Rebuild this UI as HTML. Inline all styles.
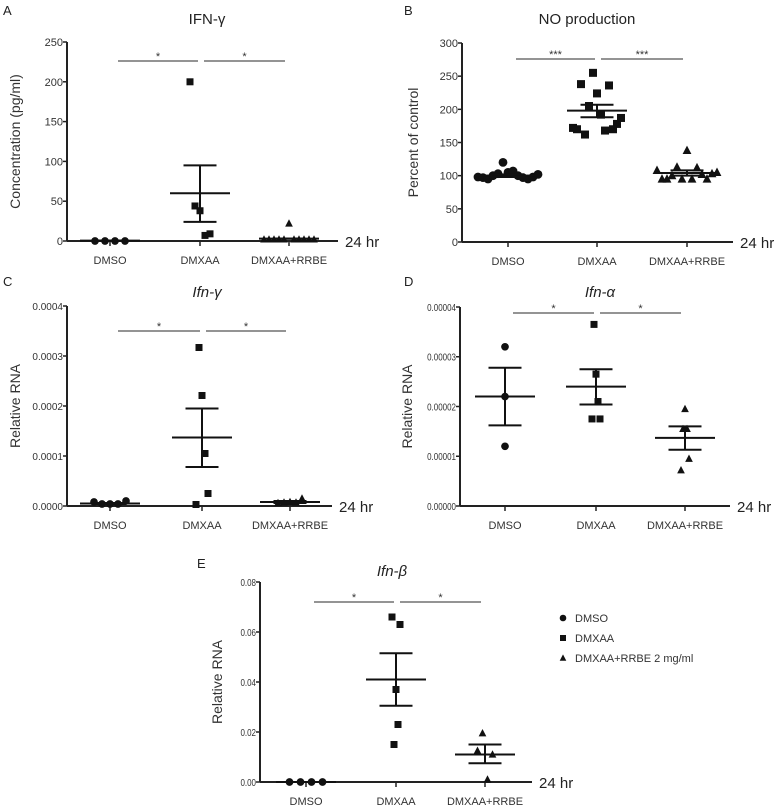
<!DOCTYPE html>
<html><head><meta charset="utf-8"><style>
body{margin:0;background:#fff;}
svg{display:block;font-family:"Liberation Sans",sans-serif;}
</style></head><body>
<svg id="fig" width="783" height="809" viewBox="0 0 783 809"></svg>
<script>
const groups = ["DMSO","DMXAA","DMXAA+RRBE"];
// Panel A
const aTicks = [0,50,100,150,200,250];
const aDmso = [0,0,0,0];
const aDmxaa = [200,44,38,7,9];
const aRrbe = [2,2,2,2,2,22,2,2,2,2,2];
const aMean = [0.5,60,3]; const aSemHi=[0.5,95,3]; const aSemLo=[0.5,24,3];
// Panel B
const bTicks = [0,50,100,150,200,250,300];
const bDmso = [98,97,95,100,103,120,105,107,100,97,95,98,102];
const bDmxaa = [172,170,238,162,205,255,224,192,168,236,170,178,187];
const bRrbe = [108,95,95,100,113,95,138,95,112,102,95,103,105];
const bMean = [100,198,104]; const bSemHi=[102,207,108]; const bSemLo=[98,188,100];
// Panel C
const cTicks = [0,0.0001,0.0002,0.0003,0.0004];
const cTickLabels = ["0.0000","0.0001","0.0002","0.0003","0.0004"];
const cDmso = [0.000008,0.000004,0.000004,0.000004,0.00001];
const cDmxaa = [0.000003,0.000317,0.000221,0.000105,0.000025];
const cRrbe = [0.000006,0.000007,0.000008,0.000007,0.000015];
const cMean = [0.000005,0.000137,0.000008]; const cSemHi=[0.000006,0.000195,0.00001]; const cSemLo=[0.000004,0.000078,0.000006];
// Panel D
const dTicks = [0,0.00001,0.00002,0.00003,0.00004];
const dTickLabels = ["0.00000","0.00001","0.00002","0.00003","0.00004"];
const dDmso = [0.000032,0.000022,0.000012];
const dDmxaa = [0.0000175,0.0000365,0.0000265,0.000021,0.0000175];
const dRrbe = [0.0000072,0.0000155,0.0000195,0.0000155,0.0000095];
const dMean = [0.000022,0.000024,0.0000137]; const dSemHi=[0.0000278,0.0000275,0.000016]; const dSemLo=[0.0000162,0.0000204,0.0000113];
// Panel E
const eTicks = [0,0.02,0.04,0.06,0.08];
const eTickLabels = ["0.00","0.02","0.04","0.06","0.08"];
const eDmso = [0,0,0,0];
const eDmxaa = [0.066,0.015,0.037,0.023,0.063];
const eRrbe = [0.0125,0.0195,0.001,0.011];
const eMean = [0,0.041,0.011]; const eSemHi=[0,0.0515,0.015]; const eSemLo=[0,0.0305,0.0075];

const NS="http://www.w3.org/2000/svg";
const svg=document.getElementById('fig');
function mk(tag,attrs,parent){const e=document.createElementNS(NS,tag);for(const k in attrs)e.setAttribute(k,attrs[k]);(parent||svg).appendChild(e);return e;}

function marker(g,shape,x,y,s){
  let e;
  if(shape==='circle') e=mk('circle',{cx:x,cy:y,r:s*0.55,fill:'#111'},g);
  else if(shape==='square') e=mk('rect',{x:x-s/2,y:y-s/2,width:s,height:s,fill:'#111'},g);
  else e=mk('polygon',{points:`${x},${y-s*0.6} ${x-s*0.55},${y+s*0.45} ${x+s*0.55},${y+s*0.45}`,fill:'#111'},g);
  return e;
}

function panel(p){
  const g=mk('g',{});
  
  
  const y=v=>p.y0+(v-p.min)/(p.max-p.min)*(p.yTop-p.y0);
  const xc=i=>p.cx[i];
  const ya=mk('line',{x1:p.ax,y1:y(p.max),x2:p.ax,y2:p.y0,stroke:'#222','stroke-width':2},g);
  
  const xa=mk('line',{x1:p.ax,y1:p.y0,x2:p.axEnd,y2:p.y0,stroke:'#222','stroke-width':2},g);
  
  p.ticks.forEach((t,i)=>{
    mk('line',{x1:p.ax-4,y1:y(t),x2:p.ax,y2:y(t),stroke:'#222','stroke-width':1.5},g);
    const tx=mk('text',{x:p.ax-4,y:y(t)+4,'text-anchor':'end','font-size':p.tfs,fill:'#333',transform:p.cond?`translate(${p.ax-4},0) scale(0.8,1) translate(${-(p.ax-4)},0)`:''},g);
    tx.textContent=p.tl?p.tl[i]:String(t);
    
  });
  groups.forEach((gn,i)=>{
    mk('line',{x1:xc(i),y1:p.y0,x2:xc(i),y2:p.y0+5,stroke:'#222','stroke-width':1.5},g);
    const t=mk('text',{x:xc(i),y:p.y0+23,'text-anchor':'middle','font-size':11,fill:'#333'},g);
    t.textContent=gn;
    
  });
  const hr=mk('text',{x:p.axEnd+7,y:p.y0+6,'font-size':15,fill:'#222'},g);hr.textContent='24 hr';
  
  const ti=mk('text',{x:p.tx,y:p.ty,'text-anchor':'middle','font-size':15,fill:'#222','font-style':p.italic?'italic':'normal'},g);
  ti.textContent=p.title;
  const lt=mk('text',{x:p.lx,y:p.ly,'font-size':13,fill:'#222'},g);lt.textContent=p.letter;
  
  const yl=mk('text',{x:0,y:0,'text-anchor':'middle','font-size':14,fill:'#333',transform:`translate(${p.ylx},${(p.y0+y(p.max))/2}) rotate(-90)`},g);
  yl.textContent=p.ylabel;
  const sy=p.sigY;
  [[xc(0)+8,xc(1)-2],[xc(1)+4,xc(2)-4]].forEach(([a,b])=>{
    const l=mk('line',{x1:a,y1:sy,x2:b,y2:sy,stroke:'#555','stroke-width':1.3},g);
    
    const s=mk('text',{x:(a+b)/2,y:sy-1,'text-anchor':'middle','font-size':11,fill:'#333'},g);
    s.textContent=p.star;
  });
  const shapes=['circle','square','triangle'];
  p.data.forEach((arr,i)=>{
    const n=arr.length;
    arr.forEach((v,j)=>{
      const off=(j-(n-1)/2)*p.sp[i];
      const m=marker(g,shapes[i],xc(i)+off,y(v),p.ms);
      
      
    });
    const mw=p.mw, ew=mw*0.55;
    const ml=mk('line',{x1:xc(i)-mw,y1:y(p.mean[i]),x2:xc(i)+mw,y2:y(p.mean[i]),stroke:'#111','stroke-width':2},g);
    
    mk('line',{x1:xc(i),y1:y(p.hi[i]),x2:xc(i),y2:y(p.lo[i]),stroke:'#111','stroke-width':2},g);
    [p.hi[i],p.lo[i]].forEach(v=>{
      const e=mk('line',{x1:xc(i)-ew,y1:y(v),x2:xc(i)+ew,y2:y(v),stroke:'#111','stroke-width':2},g);
      
    });
  });
}

panel({name:'panel-a',ax:67,axEnd:338,y0:241,yTop:42,min:0,max:250,ticks:aTicks,tfs:11,cx:[110,200,289],
  title:'IFN-γ',tx:207,ty:24,letter:'A',lx:3,ly:15,ylabel:'Concentration (pg/ml)',ylx:20,sigY:61,star:'*',
  data:[aDmso,aDmxaa,aRrbe],mean:aMean,hi:aSemHi,lo:aSemLo,sp:[10,5,5],ms:7,mw:30});
panel({name:'panel-b',ax:462,axEnd:733,y0:242,yTop:43,min:0,max:300,ticks:bTicks,tfs:11,cx:[508,597,687],
  title:'NO production',tx:587,ty:24,letter:'B',lx:404,ly:15,ylabel:'Percent of control',ylx:418,sigY:59,star:'***',
  data:[bDmso,bDmxaa,bRrbe],mean:bMean,hi:bSemHi,lo:bSemLo,sp:[5,4,5],ms:8,mw:30});
panel({name:'panel-c',ax:67,axEnd:332,y0:506,yTop:306,min:0,max:0.0004,ticks:cTicks,tl:cTickLabels,tfs:10,cx:[110,202,290],
  title:'Ifn-γ',italic:true,tx:207,ty:297,letter:'C',lx:3,ly:286,ylabel:'Relative RNA',ylx:20,sigY:331,star:'*',
  data:[cDmso,cDmxaa,cRrbe],mean:cMean,hi:cSemHi,lo:cSemLo,sp:[8,3,6],ms:7,mw:30});
panel({name:'panel-d',ax:460,axEnd:730,y0:506,yTop:307,min:0,max:0.00004,ticks:dTicks,tl:dTickLabels,tfs:10,cond:true,cx:[505,596,685],
  title:'Ifn-α',italic:true,tx:600,ty:297,letter:'D',lx:404,ly:286,ylabel:'Relative RNA',ylx:412,sigY:313,star:'*',
  data:[dDmso,dDmxaa,dRrbe],mean:dMean,hi:dSemHi,lo:dSemLo,sp:[0,2,2],ms:7,mw:30});
panel({name:'panel-e',ax:260,axEnd:532,y0:782,yTop:582,min:0,max:0.08,ticks:eTicks,tl:eTickLabels,tfs:10,cond:true,cx:[306,396,485],
  title:'Ifn-β',italic:true,tx:392,ty:576,letter:'E',lx:197,ly:568,ylabel:'Relative RNA',ylx:222,sigY:602,star:'*',
  data:[eDmso,eDmxaa,eRrbe],mean:eMean,hi:eSemHi,lo:eSemLo,sp:[11,2,5],ms:7,mw:30});

const lg=mk('g',{});


const legShapes=['circle','square','triangle'];
const legLabels=['DMSO','DMXAA','DMXAA+RRBE 2 mg/ml'];
legLabels.forEach((t,i)=>{
  const yy=618+i*20;
  marker(lg,legShapes[i],563,yy,6);
  const tx=mk('text',{x:575,y:yy+4,'font-size':11,fill:'#333'},lg);
  tx.textContent=t;
  
  
});
</script>
</body></html>
